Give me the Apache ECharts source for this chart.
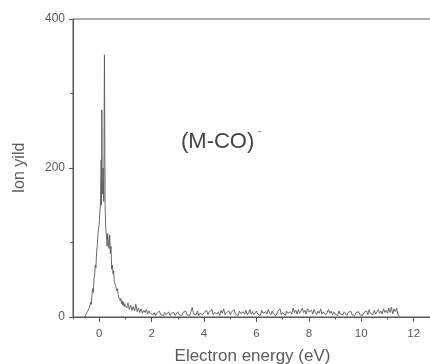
<!DOCTYPE html>
<html>
<head>
<meta charset="utf-8">
<script src="https://cdn.jsdelivr.net/npm/echarts@6/dist/echarts.min.js"></script>
<style>
html,body{margin:0;padding:0;background:#fff;}
#chart{width:430px;height:364px;}
</style>
</head>
<body>
<div id="chart"></div>
<script>
// Peak region (eV, ion yield)
var peakEnergy = [-0.55,-0.525,-0.5,-0.475,-0.45,-0.425,-0.4,-0.375,-0.35,-0.325,-0.3,-0.275,-0.25,-0.225,-0.2,-0.175,-0.15,-0.125,-0.1,-0.075,-0.05,-0.025,0,0.025,0.05,0.075,0.0875,0.1,0.1125,0.125,0.15,0.175,0.2,0.225,0.25,0.275,0.3,0.325,0.35,0.375,0.4,0.425,0.45,0.475,0.5,0.525,0.55,0.575,0.6,0.625,0.65,0.675,0.7,0.725,0.75,0.775,0.8,0.825,0.85,0.875,0.9,0.925,0.95,0.975,1.0];
var peakYield  = [0,2,4,3,7,5,11,9,16,20,17,30,38,33,50,56,70,66,88,95,110,108,125,140,152,211,150,278,170,165,200,155,352,150,118,110,95,112,100,92,110,85,95,64,70,58,62,48,50,42,44,35,38,30,26,28,22,25,18,22,16,20,14,18,15];
// Tail region (eV, ion yield)
var tailEnergy = [1.05,1.1,1.15,1.2,1.25,1.3,1.35,1.4,1.45,1.5,1.55,1.6,1.65,1.7,1.75,1.8,1.85,1.9,1.95,2.0,
2.05,2.1,2.15,2.2,2.25,2.3,2.35,2.4,2.45,2.5,2.55,2.6,2.65,2.7,2.75,2.8,2.85,2.9,2.95,3.0,
3.05,3.1,3.15,3.2,3.25,3.3,3.35,3.4,3.45,3.5,3.55,3.6,3.65,3.7,3.75,3.8,3.85,3.9,3.95,4.0,
4.05,4.1,4.15,4.2,4.25,4.3,4.35,4.4,4.45,4.5,4.55,4.6,4.65,4.7,4.75,4.8,4.85,4.9,4.95,5.0,
5.05,5.1,5.15,5.2,5.25,5.3,5.35,5.4,5.45,5.5,5.55,5.6,5.65,5.7,5.75,5.8,5.85,5.9,5.95,6.0,
6.05,6.1,6.15,6.2,6.25,6.3,6.35,6.4,6.45,6.5,6.55,6.6,6.65,6.7,6.75,6.8,6.85,6.9,6.95,7.0,
7.05,7.1,7.15,7.2,7.25,7.3,7.35,7.4,7.45,7.5,7.55,7.6,7.65,7.7,7.75,7.8,7.85,7.9,7.95,8.0,
8.05,8.1,8.15,8.2,8.25,8.3,8.35,8.4,8.45,8.5,8.55,8.6,8.65,8.7,8.75,8.8,8.85,8.9,8.95,9.0,
9.05,9.1,9.15,9.2,9.25,9.3,9.35,9.4,9.45,9.5,9.55,9.6,9.65,9.7,9.75,9.8,9.85,9.9,9.95,10.0,
10.05,10.1,10.15,10.2,10.25,10.3,10.35,10.4,10.45,10.5,10.55,10.6,10.65,10.7,10.75,10.8,10.85,10.9,10.95,11.0,
11.05,11.1,11.15,11.2,11.25,11.3,11.35,11.4,11.45];
var tailYield = [12,19,10,16,9,14,8,17,7,12,6,11,5,9,6,10,4,8,5,7,
3,6,2,5,4,8,3,5,2,6,3,4,7,2,5,3,6,2,4,7,
3,5,2,6,4,8,3,5,2,7,13,4,6,3,8,2,5,7,3,6,
4,9,3,7,5,10,3,6,8,4,7,2,9,5,11,3,6,4,8,3,
7,5,10,4,6,2,8,5,3,7,4,9,3,6,10,4,7,3,5,8,
4,6,2,9,5,3,7,4,10,6,3,8,4,6,2,7,5,11,3,6,
4,2,8,5,3,7,4,12,6,9,4,10,5,8,12,6,9,4,11,7,
5,9,4,10,6,3,8,5,11,4,7,9,3,6,10,5,8,3,7,4,
6,2,8,4,6,3,7,5,2,6,4,8,3,5,2,6,4,7,3,5,
2,6,4,8,3,10,5,7,3,9,4,6,10,5,8,4,11,6,9,5,
12,6,13,4,11,7,12,3,1];
var xMajorTicks = [0,2,4,6,8,10,12];
var xMinorTicks = [-1,1,3,5,7,9,11];
var yTicks = [0,200,400];

var spectrum = [];
peakEnergy.forEach(function(e,i){ spectrum.push([e, peakYield[i]]); });
tailEnergy.forEach(function(e,i){ spectrum.push([e, tailYield[i]]); });

var axisColor = '#555';
var textColor = '#5a5a5a';
var font = 'Liberation Sans, Arial, sans-serif';

var chart = echarts.init(document.getElementById('chart'), null, {renderer:'canvas'});
chart.setOption({
  animation:false,
  backgroundColor:'#fff',
  grid:{left:73, right:-2, top:19, bottom:47, show:true, borderColor:axisColor, borderWidth:1, containLabel:false, outerBoundsMode:'none'},
  xAxis:[{
    type:'value', position:'bottom', min:-1, max:12.7,
    axisLine:{show:true, onZero:false, lineStyle:{color:axisColor, width:1}},
    axisTick:{show:true, inside:false, length:5, customValues:xMajorTicks, lineStyle:{color:axisColor}},
    axisLabel:{show:true, customValues:xMajorTicks, color:textColor, fontSize:11.5, fontFamily:font, margin:11},
    splitLine:{show:false},
    name:'Electron energy (eV)', nameLocation:'middle', nameGap:31,
    nameTextStyle:{color:textColor, fontSize:17, fontFamily:font}
  },{
    type:'value', position:'bottom', min:-1, max:12.7, offset:0,
    axisLine:{show:false, onZero:false},
    axisTick:{show:true, inside:false, length:2.5, customValues:xMinorTicks, lineStyle:{color:axisColor}},
    axisLabel:{show:false},
    splitLine:{show:false}
  }],
  yAxis:{
    type:'value', min:0, max:400, interval:200,
    axisLine:{show:true, onZero:false, lineStyle:{color:axisColor, width:1}},
    axisTick:{show:true, inside:false, length:4, lineStyle:{color:axisColor}},
    minorTick:{show:true, splitNumber:2, length:2.5, lineStyle:{color:axisColor}},
    axisLabel:{color:textColor, fontSize:12, fontFamily:font, margin:8},
    splitLine:{show:false},
    name:'Ion yild', nameLocation:'middle', nameGap:45,
    nameTextStyle:{color:textColor, fontSize:16, fontFamily:font}
  },
  graphic:[
    {type:'text', left:181, top:131, style:{text:'(M-CO)', fill:'#444', font:'22px Liberation Sans, Arial, sans-serif'}},
    {type:'text', left:258, top:127, style:{text:'-', fill:'#444', font:'9px Liberation Sans, Arial, sans-serif'}}
  ],
  series:[{
    type:'line', xAxisIndex:0, data:spectrum, showSymbol:false, symbol:'none',
    lineStyle:{color:'#5a5a5a', width:0.9}, clip:true
  }]
});
</script>
</body>
</html>
